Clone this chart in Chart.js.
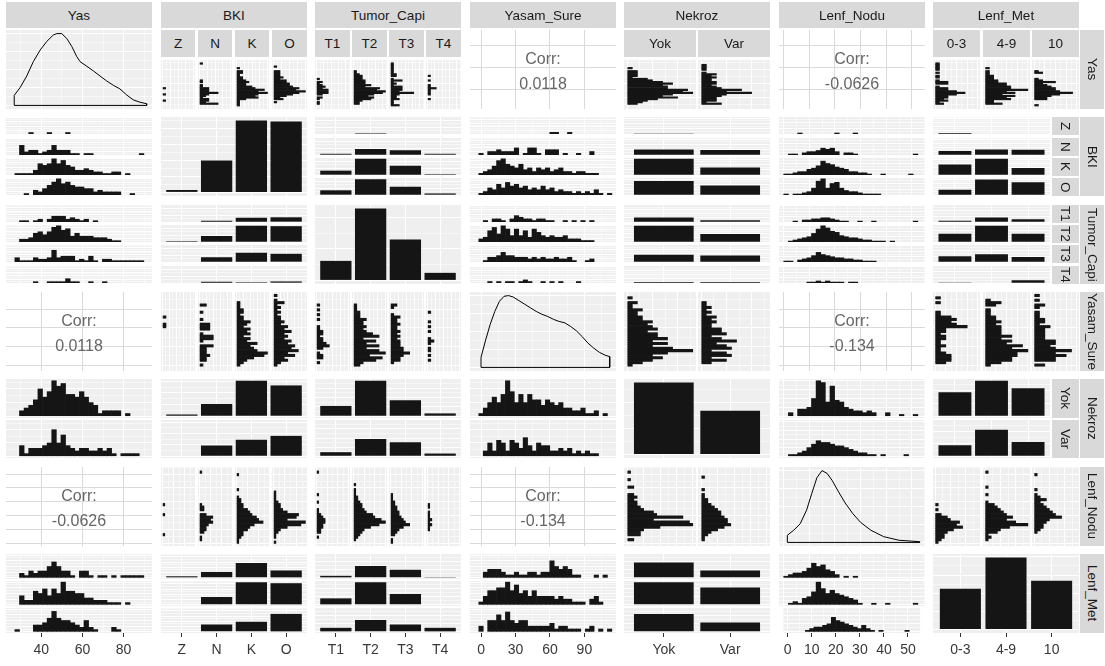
<!DOCTYPE html>
<html>
<head>
<meta charset="utf-8">
<title>ggpairs</title>
<script src="https://cdn.jsdelivr.net/npm/chart.js@4.4.1/dist/chart.umd.min.js"></script>
<style>
  html, body { margin: 0; padding: 0; background: #fff; }
  body { position: relative; width: 1105px; height: 666px; overflow: hidden; font-family: "Liberation Sans", Arial, sans-serif; }
  .strip { position: absolute; background: #d9d9d9; color: #1a1a1a; font-size: 13.5px; display: flex; align-items: center; justify-content: center; overflow: hidden; white-space: nowrap; }
  .strip.v { writing-mode: vertical-rl; }
  .corr { position: absolute; display: flex; flex-direction: column; align-items: center; justify-content: center; color: #666666; font-size: 16px; line-height: 25px; padding-top: 3px; box-sizing: border-box; }
  canvas { position: absolute; }
</style>
</head>
<body>
<script>
// levels of the discrete variables
const BKI_LEVELS = ['Z', 'N', 'K', 'O'];
const TC_LEVELS = ['T1', 'T2', 'T3', 'T4'];
const NEK_LEVELS = ['Yok', 'Var'];
const LM_LEVELS = ['0-3', '4-9', '10'];

// counts per level (diagonal bar charts)
const BKI_COUNTS = [3, 40, 90, 89];
const TC_COUNTS = [31, 114, 65, 12];
const NEK_COUNTS = [138, 84];
const LM_COUNTS = [56, 99, 67];

// cross tables, rows = first variable levels
const BKI_TC = [[0, 3, 0, 0], [4, 18, 14, 4], [13, 47, 27, 3], [14, 46, 24, 5]];
const BKI_NEK = [[3, 0], [21, 19], [61, 29], [53, 36]];
const BKI_LM = [[3, 0, 0], [11, 15, 14], [28, 43, 19], [14, 41, 34]];
const TC_NEK = [[22, 9], [76, 38], [34, 31], [6, 6]];
const TC_LM = [[5, 16, 10], [29, 56, 29], [20, 27, 18], [2, 0, 10]];
const NEK_LM = [[38, 56, 44], [18, 43, 23]];

// correlations
const CORR_YAS_YS = '0.0118';
const CORR_YAS_LN = '-0.0626';
const CORR_YS_LN = '-0.134';

// axis breaks
const YAS_TICKS = [40, 60, 80];
const YAS_MINOR = [30, 50, 70, 90];
const YS_TICKS = [0, 30, 60, 90];
const YS_MINOR = [15, 45, 75, 105];
const LN_TICKS = [0, 10, 20, 30, 40, 50];
const LN_MINOR = [5, 15, 25, 35, 45, 55];
const DENS_TICKS = [0, 0.25, 0.5, 0.75, 1];
const DENS_MINOR = [0.125, 0.375, 0.625, 0.875];

// histogram bins (30 bins, first centre + width)
const YAS_BIN0 = 26, YAS_BINW = 2.24;
const YS_BIN0 = 0, YS_BINW = 3.86;
const LN_BIN0 = 1, LN_BINW = 1.8;

// density curves (relative height)
const YAS_DENS_X = [26.8, 29.7, 32.9, 36.1, 39.4, 42.6, 45.8, 47.5, 49.9, 52.4, 54.8, 57.2, 58.8, 62.1, 65.3, 68.5, 71.8, 75, 78.2, 81.5, 84.7, 87.9, 91.2];
const YAS_DENS_Y = [0.14, 0.25, 0.41, 0.61, 0.77, 0.89, 0.98, 1.0, 1.0, 0.93, 0.82, 0.68, 0.61, 0.545, 0.48, 0.41, 0.34, 0.28, 0.23, 0.145, 0.077, 0.045, 0.023];
const YS_DENS_X = [0, 4, 8, 12, 16, 20, 24, 28, 33, 38, 43, 48, 53, 58, 63, 68, 73, 78, 83, 88, 93, 98, 103, 108, 112];
const YS_DENS_Y = [0.14, 0.38, 0.6, 0.78, 0.92, 0.99, 1.0, 0.98, 0.93, 0.88, 0.83, 0.78, 0.74, 0.71, 0.67, 0.64, 0.62, 0.57, 0.51, 0.43, 0.34, 0.27, 0.21, 0.17, 0.15];
const LN_DENS_X = [1.5, 4, 6.5, 9, 11, 13, 15, 17, 19, 21.5, 24, 27, 30, 34, 39, 45, 53];
const LN_DENS_Y = [0.1, 0.17, 0.26, 0.45, 0.68, 0.9, 1.0, 0.96, 0.86, 0.7, 0.55, 0.4, 0.28, 0.17, 0.08, 0.03, 0.01];

// Yas histograms by group
const YAS_BKI = [
  [0,0,0,0,1,0,0,0,1,0, 0,0,1,0,0,0,0,0,0,0, 0,0,0,0,0,0,0,0,0,0],
  [0,0,6,2,3,3,1,2,3,6, 3,3,3,1,1,0,1,1,0,0, 0,0,0,0,0,0,0,0,1,0],
  [0,1,1,1,1,3,7,6,7,10, 7,9,6,5,3,3,4,3,2,2, 1,1,2,2,0,1,0,0,0,0],
  [0,0,0,1,0,3,2,4,6,8, 10,7,8,6,5,5,4,4,2,3, 2,2,2,2,0,0,1,0,0,0]
];
const YAS_TC = [
  [0,0,1,1,0,1,2,0,2,4, 4,4,2,3,2,1,2,0,1,0, 0,0,0,0,0,0,0,0,0,0],
  [0,0,2,2,3,6,7,5,7,10, 11,8,9,4,6,4,4,4,3,3, 3,2,1,1,0,0,0,0,0,0],
  [0,3,1,1,1,3,2,2,3,8, 3,4,4,4,1,2,1,4,1,0, 2,2,1,1,1,1,1,1,1,0],
  [0,0,0,0,0,1,0,0,1,1, 1,1,3,1,1,0,0,1,0,0, 1,0,0,0,0,0,0,0,0,0]
];
const YAS_NEK = [
  [0,0,2,3,4,6,10,7,9,13, 11,12,8,8,7,9,7,5,4,1, 2,2,2,2,0,1,0,0,0,0],
  [0,0,4,1,3,3,3,4,5,10, 5,8,4,3,2,3,3,2,2,3, 2,3,1,0,1,1,1,1,0,0]
];
const YAS_LM = [
  [0,0,2,1,3,2,3,3,5,7, 5,3,3,1,0,3,3,1,0,1, 1,0,1,0,1,1,1,1,1,0],
  [0,0,4,2,2,6,5,7,4,7, 5,10,6,6,5,5,3,3,2,2, 2,1,1,1,0,1,0,0,0,0],
  [0,1,0,0,0,3,3,4,6,9, 6,5,5,4,3,2,5,2,1,0, 0,0,2,1,0,0,0,0,0,0]
];

// Yasam_Sure histograms by group
const YS_BKI = [
  [0,0,0,0,0,0,0,0,0,0, 0,0,0,0,0,0,1,1,0,0, 1,0,0,0,0,0,0,0,0,0],
  [1,0,2,2,3,2,2,2,4,0, 1,4,4,1,0,3,3,3,0,1, 0,0,1,0,0,2,0,0,0,0],
  [1,2,3,5,8,9,6,5,4,6, 3,4,2,4,3,4,2,3,4,2, 2,1,2,2,1,1,1,0,0,0],
  [1,2,4,3,6,4,7,5,6,4, 5,3,4,3,5,3,4,2,3,2, 2,1,2,1,2,1,3,1,0,1]
];
const YS_TC = [
  [0,1,0,2,2,1,0,2,4,3, 2,2,1,2,2,1,1,0,0,1, 0,1,0,1,0,1,0,0,0,0],
  [2,3,7,9,5,10,8,4,8,4, 7,3,8,6,4,3,4,3,3,4, 2,2,2,1,1,1,0,0,0,0],
  [0,1,3,3,4,6,4,4,3,3, 3,2,3,2,3,2,2,3,2,2, 3,1,0,0,1,2,0,0,0,0],
  [0,0,1,0,1,0,1,1,0,1, 2,1,0,0,1,0,1,0,1,0, 0,0,1,0,0,0,0,0,0,0]
];
const YS_NEK = [
  [1,3,5,7,5,8,13,9,5,8, 5,8,6,6,4,6,5,4,5,3, 3,2,2,3,1,1,2,0,1,0],
  [0,2,5,2,6,5,2,6,5,3, 7,4,2,5,4,4,2,2,3,2, 3,1,2,1,2,1,1,0,0,0]
];
const YS_LM = [
  [0,2,3,3,3,2,1,1,2,1, 1,2,2,1,2,2,6,4,3,4, 3,1,1,0,0,0,1,0,1,0],
  [1,3,5,5,6,6,8,5,7,4, 5,3,5,3,3,3,3,2,3,2, 2,1,1,1,0,2,3,1,0,0],
  [2,0,4,4,6,4,7,4,3,4, 4,2,2,2,2,2,3,1,2,2, 1,1,1,0,1,2,0,1,0,1]
];

// Lenf_Nodu histograms by group
const LN_BKI = [
  [0,0,0,1,0,0,0,0,0,0, 0,1,0,0,0,1,0,0,0,0, 0,0,0,0,0,0,0,0,0,0],
  [0,1,1,0,2,3,3,4,6,5, 6,3,0,2,2,1,0,0,0,0, 0,0,0,0,0,0,0,0,1,0],
  [1,1,2,3,3,5,6,8,12,10, 9,7,6,5,3,3,2,2,1,0, 0,1,0,0,0,0,0,1,0,0],
  [1,0,1,1,2,3,6,12,14,6, 10,11,6,4,3,3,2,1,1,1, 1,0,0,0,0,0,0,0,0,0]
];
const LN_TC = [
  [0,0,1,0,2,2,3,3,4,4, 3,2,1,1,0,0,1,0,0,1, 0,0,0,0,0,0,0,0,1,0],
  [0,1,2,3,4,5,8,12,15,13, 10,9,6,5,4,4,3,2,2,1, 1,1,0,1,0,0,0,0,0,0],
  [1,1,0,2,3,4,6,9,7,6, 5,4,4,3,3,2,2,1,1,1, 0,0,0,0,0,0,0,0,0,0],
  [0,0,0,0,0,1,1,2,1,2, 1,1,1,0,1,1,0,0,0,0, 0,0,0,0,0,0,0,0,0,0]
];
const LN_NEK = [
  [0,2,0,4,4,5,10,20,19,8, 17,9,8,5,4,3,3,2,3,2, 0,0,2,0,0,1,0,0,1,0],
  [0,1,1,2,3,5,7,9,8,8, 7,6,6,5,4,3,2,2,1,1, 0,1,0,0,0,0,1,0,0,0]
];
const LN_LM = [
  [1,2,3,3,4,6,9,7,8,5, 4,2,0,1,0,1,0,0,0,0, 0,0,0,0,0,0,0,0,0,0],
  [0,1,2,1,4,5,8,14,10,7, 9,7,6,5,4,3,1,0,0,1, 0,0,1,0,0,0,0,0,1,0],
  [0,0,0,0,1,2,3,3,4,5, 9,7,6,5,4,3,2,4,2,1, 0,1,0,0,0,0,0,1,0,0]
];

// ---------------------------------------------------------------
const FONT = '"Liberation Sans", Arial, sans-serif';
const PANEL_BG = '#efefef';
const BAR = '#151515';
const CORR_GRID = '#dadada';

const COL_X = [6, 160.5, 315, 469.5, 624, 778.5, 933];
const ROW_Y = [30, 117.3, 204.7, 292, 379.3, 466.7, 554];
const PW = 146, PH = 79, GAP = 2.5, SUB_H = 27, SUB_W = 27, AXIS_H = 32;

const VARS = [
  { name: 'Yas', cont: true, min: 22.8, max: 93.8, majors: YAS_TICKS, minors: YAS_MINOR, bin0: YAS_BIN0, binW: YAS_BINW, dx: YAS_DENS_X, dy: YAS_DENS_Y },
  { name: 'BKI', cont: false, levels: BKI_LEVELS, counts: BKI_COUNTS },
  { name: 'Tumor_Capi', cont: false, levels: TC_LEVELS, counts: TC_COUNTS },
  { name: 'Yasam_Sure', cont: true, min: -9.6, max: 117.5, majors: YS_TICKS, minors: YS_MINOR, bin0: YS_BIN0, binW: YS_BINW, dx: YS_DENS_X, dy: YS_DENS_Y },
  { name: 'Nekroz', cont: false, levels: NEK_LEVELS, counts: NEK_COUNTS },
  { name: 'Lenf_Nodu', cont: true, min: -1.75, max: 55.1, majors: LN_TICKS, minors: LN_MINOR, bin0: LN_BIN0, binW: LN_BINW, dx: LN_DENS_X, dy: LN_DENS_Y },
  { name: 'Lenf_Met', cont: false, levels: LM_LEVELS, counts: LM_COUNTS },
];

const HIST = {
  Yas: { BKI: YAS_BKI, Tumor_Capi: YAS_TC, Nekroz: YAS_NEK, Lenf_Met: YAS_LM },
  Yasam_Sure: { BKI: YS_BKI, Tumor_Capi: YS_TC, Nekroz: YS_NEK, Lenf_Met: YS_LM },
  Lenf_Nodu: { BKI: LN_BKI, Tumor_Capi: LN_TC, Nekroz: LN_NEK, Lenf_Met: LN_LM },
};
const CROSS = {
  'BKI|Tumor_Capi': BKI_TC, 'BKI|Nekroz': BKI_NEK, 'BKI|Lenf_Met': BKI_LM,
  'Tumor_Capi|Nekroz': TC_NEK, 'Tumor_Capi|Lenf_Met': TC_LM, 'Nekroz|Lenf_Met': NEK_LM,
};
const CORR = {
  'Yas|Yasam_Sure': CORR_YAS_YS, 'Yas|Lenf_Nodu': CORR_YAS_LN, 'Yasam_Sure|Lenf_Nodu': CORR_YS_LN,
};

Chart.register({
  id: 'panelBg',
  beforeDraw(chart, args, o) {
    const a = chart.chartArea, ctx = chart.ctx;
    ctx.save();
    ctx.fillStyle = o.color || PANEL_BG;
    ctx.fillRect(a.left, a.top, a.right - a.left, a.bottom - a.top);
    ctx.restore();
  },
});

function cross(a, b) {
  if (CROSS[a + '|' + b]) return CROSS[a + '|' + b];
  const m = CROSS[b + '|' + a];
  return m[0].map((_, j) => m.map((row) => row[j]));
}

function countBreaks(M) {
  const steps = [1, 2, 2.5, 5, 10, 20, 25, 50];
  const s = steps.find((st) => M / st <= 4.5) || 100;
  const majors = [], minors = [];
  for (let v = 0; v <= M * 1.05; v += s) majors.push(v);
  for (let v = s / 2; v <= M * 1.05; v += s) minors.push(v);
  return { majors, minors };
}

function linScale(min, max, majors, minors, o = {}) {
  const majorSet = new Set(majors);
  const all = majors.concat(minors).filter((v) => v >= min && v <= max).sort((a, b) => a - b);
  const isMajor = (ctx) => ctx.tick && majorSet.has(ctx.tick.value);
  const s = {
    type: 'linear', min, max, bounds: 'data', offset: false,
    border: { display: false },
    grid: {
      offset: false,
      color: o.grid || '#ffffff',
      lineWidth: (ctx) => (isMajor(ctx) ? 1 : 0.5),
      drawTicks: !!o.axis,
      tickLength: 4,
      tickWidth: 1,
      tickColor: (ctx) => (isMajor(ctx) ? '#333' : 'rgba(0,0,0,0)'),
    },
    ticks: {
      display: !!o.axis, autoSkip: false, maxRotation: 0, minRotation: 0, padding: 5,
      color: '#383838', font: { size: 14, family: FONT },
      callback: (v) => (majorSet.has(v) ? (o.labels ? o.labels[v] : String(v)) : ''),
    },
    afterBuildTicks: (sc) => { sc.ticks = all.map((v) => ({ value: v })); },
  };
  if (o.axis) s.afterFit = (sc) => { sc.height = AXIS_H; };
  return s;
}

const varScale = (v, axis) => linScale(v.min, v.max, v.majors, v.minors, { axis });
const countScale = (M) => { const b = countBreaks(M); return linScale(-0.05 * M, 1.05 * M, b.majors, b.minors); };
const discScale = (levels, axis) => linScale(-0.6, levels.length - 0.4, levels.map((_, i) => i), [], { axis, labels: levels });

function addCanvas(x, y, w, h) {
  const c = document.createElement('canvas');
  const L = Math.round(x), T = Math.round(y);
  const W = Math.round(x + w) - L, H = Math.round(y + h) - T;
  c.width = W; c.height = H;
  c.style.cssText = `left:${L}px;top:${T}px;width:${W}px;height:${H}px`;
  document.body.appendChild(c);
  return c;
}

function makeChart(r, type, datasets, xs, ys, o = {}) {
  return new Chart(addCanvas(r.x, r.y, r.w, r.h), {
    type,
    data: { datasets },
    options: {
      responsive: false, animation: false, events: [],
      indexAxis: o.indexAxis || 'x',
      layout: { padding: 0 },
      plugins: { legend: { display: false }, tooltip: { enabled: false }, panelBg: { color: o.bg || PANEL_BG } },
      scales: { x: xs, y: ys },
    },
  });
}

// empty bins are drawn transparent so no hairline shows on the baseline
const barSet = (data, pct, key) => ({
  data,
  backgroundColor: (ctx) => (ctx.raw && ctx.raw[key] > 0 ? BAR : 'rgba(0,0,0,0)'),
  borderWidth: 0, barPercentage: 1, categoryPercentage: pct,
});

function strip(x, y, w, h, text, vertical) {
  const d = document.createElement('div');
  d.className = 'strip' + (vertical ? ' v' : '');
  const L = Math.round(x), T = Math.round(y);
  d.style.cssText = `left:${L}px;top:${T}px;width:${Math.round(x + w) - L}px;height:${Math.round(y + h) - T}px`;
  d.textContent = text;
  document.body.appendChild(d);
}

function split(start, len, n) {
  const s = (len - GAP * (n - 1)) / n;
  return Array.from({ length: n }, (_, i) => [start + i * (s + GAP), s]);
}

function vHist(r, counts, v, M, axis) {
  const data = counts.map((n, i) => ({ x: v.bin0 + i * v.binW, y: n }));
  const rect = axis ? { ...r, h: r.h + AXIS_H } : r;
  makeChart(rect, 'bar', [barSet(data, 1, 'y')], varScale(v, axis), countScale(M));
}

function hHist(r, counts, v, M) {
  const data = counts.map((n, i) => ({ x: n, y: v.bin0 + i * v.binW }));
  makeChart(r, 'bar', [barSet(data, 1, 'x')], countScale(M), varScale(v, false), { indexAxis: 'y' });
}

function vBars(r, counts, levels, M, axis) {
  const data = counts.map((n, i) => ({ x: i, y: n }));
  const rect = axis ? { ...r, h: r.h + AXIS_H } : r;
  makeChart(rect, 'bar', [barSet(data, 0.9, 'y')], discScale(levels, axis), countScale(M));
}

function density(r, v) {
  const n = v.dx.length;
  const pts = [{ x: v.dx[0], y: 0 }]
    .concat(v.dx.map((x, i) => ({ x, y: v.dy[i] })))
    .concat([{ x: v.dx[n - 1], y: 0 }, { x: v.dx[0], y: 0 }]);
  makeChart(r, 'scatter', [{ data: pts, showLine: true, borderColor: '#000', borderWidth: 1, pointRadius: 0, tension: 0, fill: false }],
    varScale(v, false), linScale(-0.05, 1.05, DENS_TICKS, DENS_MINOR));
}

function corrPanel(r, xv, yv, text) {
  makeChart(r, 'scatter', [],
    linScale(xv.min, xv.max, xv.majors, [], { grid: CORR_GRID }),
    linScale(yv.min, yv.max, yv.majors, [], { grid: CORR_GRID }), { bg: '#ffffff' });
  const d = document.createElement('div');
  d.className = 'corr';
  d.style.cssText = `left:${Math.round(r.x)}px;top:${Math.round(r.y)}px;width:${r.w}px;height:${r.h}px`;
  d.innerHTML = '<span>Corr:</span><span>' + text + '</span>';
  document.body.appendChild(d);
}

function drawPanel(r, c) {
  const rv = VARS[r], cv = VARS[c];
  const x = COL_X[c], y = ROW_Y[r];
  const last = r === 6;

  if (r === c) {
    if (rv.cont) density({ x, y, w: PW, h: PH }, rv);
    else vBars({ x, y, w: PW, h: PH }, rv.counts, rv.levels, Math.max(...rv.counts), last);
    return;
  }
  if (rv.cont && cv.cont) {
    const key = r < c ? rv.name + '|' + cv.name : cv.name + '|' + rv.name;
    corrPanel({ x, y, w: PW, h: PH }, cv, rv, CORR[key]);
    return;
  }
  if (!rv.cont && cv.cont) {
    // facet rows, histogram of the column variable
    const sets = HIST[cv.name][rv.name];
    const M = Math.max(...sets.flat());
    split(y, PH, sets.length).forEach(([sy, sh], i) => {
      vHist({ x, y: sy, w: PW, h: sh }, sets[i], cv, M, last && i === sets.length - 1);
    });
    return;
  }
  if (rv.cont && !cv.cont) {
    // facet columns, sideways histogram of the row variable
    const sets = HIST[rv.name][cv.name];
    const M = Math.max(...sets.flat());
    const top = r === 0 ? y + SUB_H + GAP : y;
    const hh = r === 0 ? PH - SUB_H - GAP : PH;
    split(x, PW, sets.length).forEach(([sx, sw], i) => {
      hHist({ x: sx, y: top, w: sw, h: hh }, sets[i], rv, M);
      if (r === 0) strip(sx, y, sw, SUB_H, cv.levels[i]);
    });
    return;
  }
  // discrete x discrete: facet rows of bar charts
  const m = cross(rv.name, cv.name);
  const M = Math.max(...m.flat());
  const w = c === 6 ? PW - SUB_W - GAP : PW;
  split(y, PH, m.length).forEach(([sy, sh], i) => {
    vBars({ x, y: sy, w, h: sh }, m[i], cv.levels, M, last && i === m.length - 1);
    if (c === 6) strip(x + w + GAP, sy, SUB_W, sh, rv.levels[i], true);
  });
}

for (let r = 0; r < 7; r++) {
  for (let c = 0; c < 7; c++) drawPanel(r, c);
}
VARS.forEach((v, i) => {
  strip(COL_X[i], 2, PW, 26, v.name);
  strip(1080, ROW_Y[i], 24, PH, v.name, true);
});
</script>
</body>
</html>
